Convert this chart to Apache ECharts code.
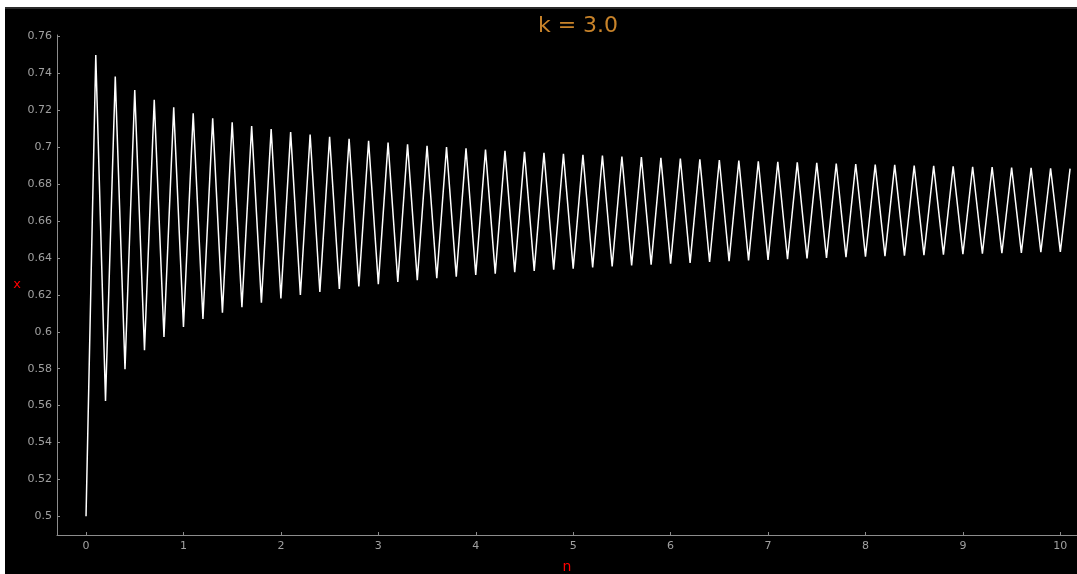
<!DOCTYPE html>
<html>
<head>
<meta charset="utf-8">
<script src="https://cdn.jsdelivr.net/npm/echarts@6/dist/echarts.min.js"></script>
<style>
html,body{margin:0;padding:0;background:#fff;}
#c{width:1077px;height:574px;}
</style>
</head>
<body>
<div id="c"></div>
<script>
const titleText = 'k = 3.0';
const xName = 'n';
const yName = 'x';
const nValues = [0,0.1,0.2,0.3,0.4,0.5,0.6,0.7,0.8,0.9,1,1.1,1.2,1.3,1.4,1.5,1.6,1.7,1.8,1.9,2,2.1,2.2,2.3,2.4,2.5,2.6,2.7,2.8,2.9,3,3.1,3.2,3.3,3.4,3.5,3.6,3.7,3.8,3.9,4,4.1,4.2,4.3,4.4,4.5,4.6,4.7,4.8,4.9,5,5.1,5.2,5.3,5.4,5.5,5.6,5.7,5.8,5.9,6,6.1,6.2,6.3,6.4,6.5,6.6,6.7,6.8,6.9,7,7.1,7.2,7.3,7.4,7.5,7.6,7.7,7.8,7.9,8,8.1,8.2,8.3,8.4,8.5,8.6,8.7,8.8,8.9,9,9.1,9.2,9.3,9.4,9.5,9.6,9.7,9.8,9.9,10,10.1];
const xValues = [0.5,0.75,0.5625,0.7383,0.5797,0.7310,0.5900,0.7257,0.5972,0.7217,
0.6026,0.7184,0.6069,0.7157,0.6104,0.7135,0.6133,0.7115,0.6158,0.7098,
0.6180,0.7082,0.6199,0.7069,0.6216,0.7056,0.6232,0.7045,0.6246,0.7035,
0.6258,0.7025,0.6270,0.7016,0.6280,0.7008,0.6290,0.7001,0.6299,0.6994,
0.6308,0.6987,0.6315,0.6981,0.6323,0.6975,0.6330,0.6970,0.6336,0.6964,
0.6342,0.6959,0.6348,0.6955,0.6354,0.6950,0.6359,0.6946,0.6364,0.6942,
0.6369,0.6938,0.6373,0.6934,0.6378,0.6931,0.6382,0.6927,0.6386,0.6924,
0.6390,0.6921,0.6393,0.6918,0.6397,0.6915,0.6400,0.6912,0.6404,0.6909,
0.6407,0.6906,0.6410,0.6904,0.6413,0.6901,0.6415,0.6899,0.6418,0.6897,
0.6421,0.6894,0.6423,0.6892,0.6426,0.6890,0.6428,0.6888,0.6431,0.6886,
0.6433,0.6884];
const xTicks = [0,1,2,3,4,5,6,7,8,9,10];
const yTicks = [0.5,0.52,0.54,0.56,0.58,0.6,0.62,0.64,0.66,0.68,0.7,0.72,0.74,0.76];

const seriesData = nValues.map((n, i) => [n, xValues[i]]);
const axisColor = '#8c8c8c';
const labelColor = '#a0a0a0';
const font = 'DejaVu Sans';

const chart = echarts.init(document.getElementById('c'), null, {renderer: 'canvas'});
chart.setOption({
  backgroundColor: '#ffffff',
  animation: false,
  graphic: [
    {type: 'rect', z: -10, shape: {x: 5, y: 7, width: 1072, height: 567}, style: {fill: '#000000'}},
    {type: 'rect', z: -9, shape: {x: 5, y: 7, width: 1072, height: 2}, style: {fill: '#2a2a2a'}}
  ],
  title: {
    text: titleText,
    left: 573,
    top: 10,
    textAlign: 'center',
    textStyle: {color: '#c8832a', fontFamily: font, fontSize: 22, fontWeight: 'normal'}
  },
  grid: {left: 57, right: 0, top: 35, bottom: 39, containLabel: false, outerBoundsMode: 'none'},
  xAxis: {
    type: 'value',
    min: -0.298,
    max: 10.171,
    name: xName,
    nameLocation: 'middle',
    nameGap: 25,
    nameTextStyle: {color: '#ff0000', fontFamily: font, fontSize: 14},
    axisLine: {show: true, onZero: false, lineStyle: {color: axisColor, width: 1}},
    axisTick: {show: true, inside: true, length: 3, lineStyle: {color: axisColor}, customValues: xTicks},
    axisLabel: {color: labelColor, fontFamily: font, fontSize: 11, margin: 6, customValues: xTicks},
    splitLine: {show: false}
  },
  yAxis: {
    type: 'value',
    min: 0.4899,
    max: 0.7608,
    name: yName,
    nameLocation: 'middle',
    nameRotate: 0,
    nameGap: 36,
    nameTextStyle: {color: '#ff0000', fontFamily: font, fontSize: 13},
    axisLine: {show: true, onZero: false, lineStyle: {color: axisColor, width: 1}},
    axisTick: {show: true, inside: true, length: 3, lineStyle: {color: axisColor}, customValues: yTicks},
    axisLabel: {color: labelColor, fontFamily: font, fontSize: 11, margin: 5, customValues: yTicks},
    splitLine: {show: false}
  },
  series: [{
    type: 'line',
    data: seriesData,
    showSymbol: false,
    symbol: 'none',
    lineStyle: {color: '#ffffff', width: 1.5},
    clip: true
  }]
});
</script>
</body>
</html>
